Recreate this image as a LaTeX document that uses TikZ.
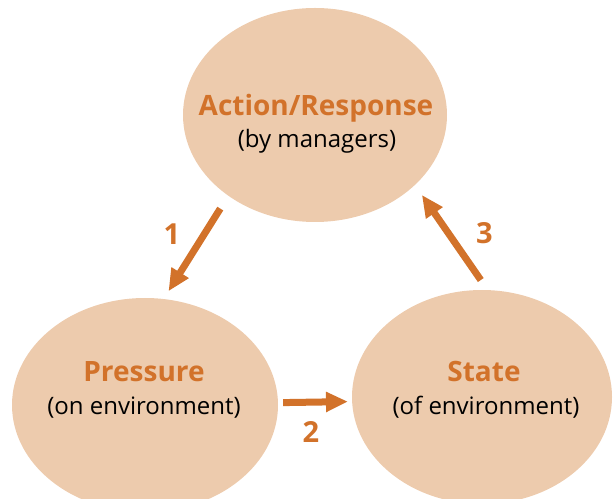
\documentclass[tikz,border=0pt]{standalone}
\usepackage{fontspec}
\setmainfont{Open Sans}
\usetikzlibrary{positioning, arrows.meta, shapes.geometric}
\definecolor{Beige}{HTML}{EDCBAD}
\definecolor{Rust}{HTML}{D2722A}
\tikzset{
	blob/.append style={
		ellipse,
		fill=Beige,
		draw=none,
		align = center,
		inner sep=0pt,
	},
	ttl/.append style={
		text=Rust,
		anchor=base,
		font={\fontsize{28}{30}\selectfont\bfseries},
	},
	sub/.append style={
		anchor=base,
		font={\fontsize{24}{26}\selectfont},
	},
	flow/.append style={
		draw=Rust,
		line width=7pt,
		-{Triangle[length=22pt,width=19pt]},
	},
	num/.append style={
		text=Rust,
		font={\fontsize{29}{30}\selectfont\bfseries},
	},
}

\begin{document}
\begin{tikzpicture}[x=1pt,y=1pt]

\useasboundingbox (0,0) rectangle (613,498);
\clip (0,0) rectangle (613,498);

\node(act)[blob, minimum width=264pt, minimum height=214pt] at (315,383) {};
\node(pres)[blob, minimum width=266pt, minimum height=214pt] at (145,93) {};
\node(stat)[blob, minimum width=260pt, minimum height=214pt] at (482,101) {};

\node(actT)[ttl] at (316,382) {Action/Response};
\node(actS)[sub] at (317,350) {(by managers)};
\node(presT)[ttl] at (144,116) {Pressure};
\node(presS)[sub] at (144,83) {(on environment)};
\node(statT)[ttl] at (484,116) {State};
\node(statS)[sub] at (486,83) {(of environment)};


\draw[flow, shorten <=15pt, shorten >=9pt] (act.223.5) -- (pres.80.1);
\draw[flow, shorten <=5pt, shorten >=4pt] (pres.1.2) -- (stat.182.1);
\draw[flow, shorten <=12pt, shorten >=12pt] (stat.87.1) -- (act.325);


\node(n1)[num] at (172,264) {1};
\node(n2)[num] at (311,66) {2};
\node(n3)[num] at (484.5,264.5) {3};

\end{tikzpicture}
\end{document}
